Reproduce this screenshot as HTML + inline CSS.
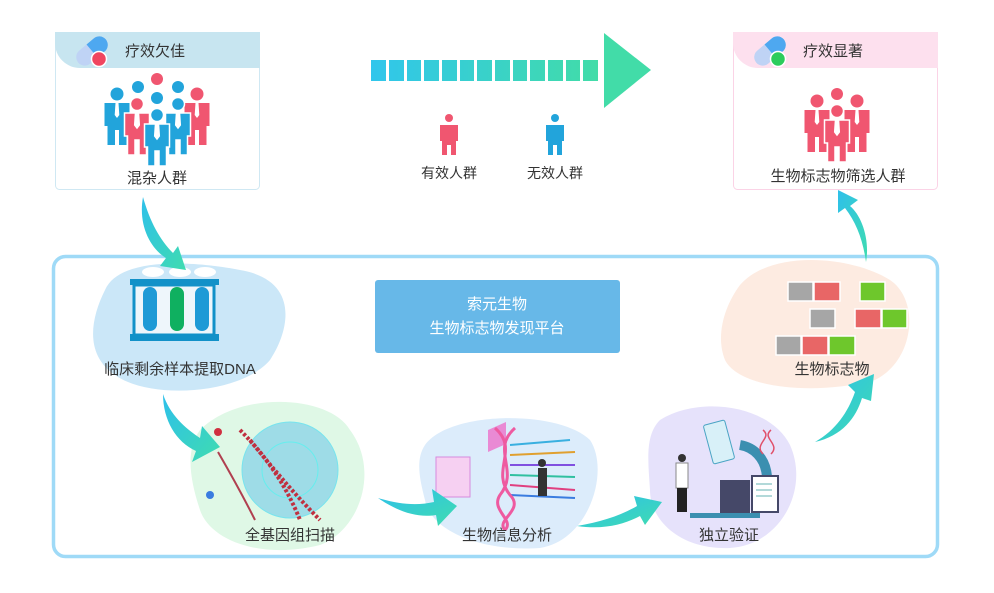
<!DOCTYPE html>
<html><head><meta charset="utf-8"><style>
body{margin:0;background:#fff;width:994px;height:593px;overflow:hidden;font-family:"Liberation Sans","Noto Sans CJK SC",sans-serif}
svg{display:block}
text{font-family:"Liberation Sans","Noto Sans CJK SC",sans-serif;fill:#333}
</style></head><body>
<svg width="994" height="593" viewBox="0 0 994 593">
<defs>
<linearGradient id="ga" x1="0" x2="1"><stop offset="0" stop-color="#30c6ec"/><stop offset="1" stop-color="#42dca8"/></linearGradient>
<linearGradient id="gc" x1="0" y1="0" x2="1" y2="1"><stop offset="0" stop-color="#2ec0ea"/><stop offset="1" stop-color="#3fdcb0"/></linearGradient>
<g id="p"><circle cx="0" cy="-7" r="6.5"/><path d="M-12.5,2 h25 v23 h-3 v19 h-7.5 v-15 h-4 v15 h-7.5 v-19 h-3 z"/><path d="M-1.5,2 h3 l0.8,12 -2.3,3 -2.3,-3 z" fill="#fff"/></g>
</defs>

<!-- left card -->
<rect x="55.5" y="32.5" width="204" height="157" rx="4" fill="#fff" stroke="#cfe8f3"/>
<path d="M55,32 h205 v36 h-180 a25,25 0 0 1 -25,-25 z" fill="#c7e5f0"/>
<g transform="translate(92,51) rotate(-40)"><rect x="-18" y="-8.5" width="36" height="17" rx="8.5" fill="#bfd3f5"/><path d="M0,-8.5 h9.5 a8.5,8.5 0 0 1 0,17 h-9.5 z" fill="#4ea8f0"/></g>
<circle cx="99" cy="59" r="7.5" fill="#f04660" stroke="#fff" stroke-width="1.5"/>
<text x="125" y="56" font-size="15">疗效欠佳</text>
<g fill="#f05670"><circle cx="157" cy="79" r="6"/></g>
<g fill="#22a4db"><circle cx="138" cy="87" r="6"/><circle cx="178" cy="87" r="6"/><circle cx="157" cy="98" r="6"/></g>
<g fill="#22a4db"><use href="#p" x="117" y="101"/></g>
<g fill="#f05670"><use href="#p" x="197" y="101"/></g>
<g fill="#f05670" stroke="#fff" stroke-width="1.5"><use href="#p" x="137" y="111"/></g>
<g fill="#22a4db" stroke="#fff" stroke-width="1.5"><use href="#p" x="178" y="111"/></g>
<g fill="#22a4db" stroke="#fff" stroke-width="1.5"><use href="#p" x="157" y="122"/></g>
<text x="157" y="183" font-size="15" text-anchor="middle">混杂人群</text>

<!-- right card -->
<rect x="733.5" y="32.5" width="204" height="157" rx="4" fill="#fff" stroke="#fbd3e6"/>
<path d="M733,32 h205 v36 h-180 a25,25 0 0 1 -25,-25 z" fill="#fde0ee"/>
<g transform="translate(770,51) rotate(-40)"><rect x="-18" y="-8.5" width="36" height="17" rx="8.5" fill="#bfd3f5"/><path d="M0,-8.5 h9.5 a8.5,8.5 0 0 1 0,17 h-9.5 z" fill="#4ea8f0"/></g>
<circle cx="778" cy="59" r="7.5" fill="#2ccc5c" stroke="#fff" stroke-width="1.5"/>
<text x="803" y="56" font-size="15">疗效显著</text>
<g fill="#f05670"><circle cx="837" cy="94" r="6"/><use href="#p" x="817" y="108"/><use href="#p" x="857" y="108"/></g>
<g fill="#f05670" stroke="#fff" stroke-width="1.5"><use href="#p" x="837" y="118"/></g>
<text x="838" y="181" font-size="15" text-anchor="middle">生物标志物筛选人群</text>

<!-- dashed arrow -->
<rect x="371" y="60" width="227" height="21" fill="url(#ga)"/>
<path d="M604,33 L651,70 L604,108 z" fill="#42dca8"/>
<g fill="#fff">
<rect x="386" y="59" width="3" height="23"/><rect x="404" y="59" width="3" height="23"/><rect x="421" y="59" width="3" height="23"/><rect x="439" y="59" width="3" height="23"/><rect x="457" y="59" width="3" height="23"/><rect x="474" y="59" width="3" height="23"/><rect x="492" y="59" width="3" height="23"/><rect x="510" y="59" width="3" height="23"/><rect x="527" y="59" width="3" height="23"/><rect x="545" y="59" width="3" height="23"/><rect x="563" y="59" width="3" height="23"/><rect x="580" y="59" width="3" height="23"/>
</g>
<g fill="#f05670"><circle cx="449" cy="118" r="4"/><path d="M440,125 h18 v16 h-2 v14 h-5 v-10 h-4 v10 h-5 v-14 h-2 z"/></g>
<g fill="#22a4db"><circle cx="555" cy="118" r="4"/><path d="M546,125 h18 v16 h-2 v14 h-5 v-10 h-4 v10 h-5 v-14 h-2 z"/></g>
<text x="449" y="178" font-size="14" text-anchor="middle">有效人群</text>
<text x="555" y="178" font-size="14" text-anchor="middle">无效人群</text>

<!-- main box -->
<rect x="53.5" y="256.5" width="884" height="300" rx="12" fill="#fff" stroke="#9fdaf7" stroke-width="3.5"/>

<!-- blobs -->
<path d="M105,290 C120,255 200,262 240,270 C300,280 290,330 270,360 C240,395 150,400 115,375 C85,355 90,320 105,290 z" fill="#cbe7f8"/>
<path d="M200,430 C240,390 330,395 350,430 C380,470 360,530 320,545 C260,560 210,540 200,510 C190,480 185,450 200,430 z" fill="#dff8e6"/>
<path d="M425,445 C450,410 560,410 590,440 C610,470 590,540 540,548 C480,552 430,530 425,500 C420,480 415,460 425,445 z" fill="#dcecfb"/>
<path d="M660,420 C700,395 770,405 790,445 C810,490 780,545 730,548 C680,550 650,520 650,490 C648,460 645,435 660,420 z" fill="#e6e2fb"/>
<path d="M740,285 C770,250 850,255 890,280 C920,300 915,360 875,380 C820,395 740,390 725,360 C715,335 725,305 740,285 z" fill="#fdebe1"/>

<!-- tube rack -->
<ellipse cx="153" cy="272" rx="11" ry="5" fill="#fff"/><ellipse cx="180" cy="272" rx="11" ry="5" fill="#fff"/><ellipse cx="205" cy="272" rx="11" ry="5" fill="#fff"/>
<rect x="130" y="279" width="89" height="6" fill="#1291c8"/>
<rect x="134" y="285" width="80" height="50" fill="#eef6fb" stroke="#1291c8" stroke-width="3"/>
<rect x="130" y="334" width="89" height="7" fill="#1291c8"/>
<rect x="143" y="287" width="14" height="44" rx="7" fill="#1e9ad6"/>
<rect x="170" y="287" width="14" height="44" rx="7" fill="#0fb060"/>
<rect x="195" y="287" width="14" height="44" rx="7" fill="#1e9ad6"/>
<text x="180" y="374" font-size="15" text-anchor="middle">临床剩余样本提取DNA</text>

<!-- genome scan -->
<circle cx="290" cy="470" r="48" fill="#8fd6e8" opacity="0.8" stroke="#5ee0f0" stroke-width="1"/>
<circle cx="290" cy="470" r="28" fill="none" stroke="#6ee" stroke-width="1"/>
<path d="M240,430 Q280,470 300,520" stroke="#c03040" stroke-width="4" fill="none" stroke-dasharray="3 2"/>
<path d="M250,440 Q290,490 320,520" stroke="#c03040" stroke-width="4" fill="none" stroke-dasharray="3 2"/>
<path d="M218,452 Q240,490 255,520" stroke="#b04050" stroke-width="2" fill="none"/>
<circle cx="218" cy="432" r="4" fill="#d03040"/><circle cx="210" cy="495" r="4" fill="#3a7ce0"/>
<text x="290" y="540" font-size="15" text-anchor="middle">全基因组扫描</text>

<!-- bioinfo -->
<rect x="436" y="457" width="34" height="40" fill="#f6d0f2" stroke="#d68ade"/>
<path d="M488,430 l18,-8 v22 l-18,8 z" fill="#e98ad4"/>
<g stroke-width="2">
<line x1="510" y1="445" x2="570" y2="440" stroke="#3ab0e0"/><line x1="510" y1="455" x2="575" y2="452" stroke="#e0a030"/><line x1="510" y1="465" x2="575" y2="465" stroke="#8050e0"/><line x1="510" y1="475" x2="575" y2="477" stroke="#30c0a0"/><line x1="510" y1="485" x2="575" y2="490" stroke="#e04080"/><line x1="510" y1="495" x2="575" y2="498" stroke="#3a7ce0"/>
</g>
<path d="M495,428 C520,450 490,470 510,495 C525,510 495,520 505,530 M515,428 C490,450 520,470 500,495 C490,510 515,520 505,530" stroke="#ee5aa0" stroke-width="3" fill="none"/>
<rect x="538" y="468" width="9" height="28" fill="#333"/><circle cx="542" cy="463" r="4" fill="#333"/>
<text x="507" y="540" font-size="15" text-anchor="middle">生物信息分析</text>

<!-- validation -->
<rect x="708" y="422" width="22" height="40" rx="2" fill="#d8f0f8" stroke="#4aa4c4" transform="rotate(-15 719 442)"/>
<path d="M740,445 C770,450 775,490 755,505" stroke="#3b8fb0" stroke-width="10" fill="none"/>
<rect x="720" y="480" width="30" height="35" fill="#454868"/>
<rect x="690" y="513" width="70" height="5" fill="#3b8fb0"/>
<rect x="752" y="476" width="26" height="36" fill="#fff" stroke="#454868" stroke-width="2"/>
<g stroke="#9cc" stroke-width="1.5"><line x1="756" y1="484" x2="772" y2="484"/><line x1="756" y1="490" x2="772" y2="490"/><line x1="756" y1="496" x2="772" y2="496"/></g>
<path d="M763,430 c10,8 -10,14 0,24 M771,430 c-10,8 10,14 0,24" stroke="#e0506a" stroke-width="1.5" fill="none"/>
<circle cx="682" cy="458" r="4" fill="#333"/><rect x="676" y="463" width="12" height="25" fill="#fff" stroke="#888"/><rect x="677" y="488" width="10" height="24" fill="#222"/>
<text x="729" y="540" font-size="15" text-anchor="middle">独立验证</text>

<!-- biomarkers -->
<g stroke="#fff" stroke-width="1.5">
<rect x="788" y="282" width="25" height="19" fill="#a6a6a6"/><rect x="814" y="282" width="26" height="19" fill="#e86666"/><rect x="860" y="282" width="25" height="19" fill="#6ec72c"/>
<rect x="810" y="309" width="25" height="19" fill="#a6a6a6"/><rect x="855" y="309" width="26" height="19" fill="#e86666"/><rect x="882" y="309" width="25" height="19" fill="#6ec72c"/>
<rect x="776" y="336" width="25" height="19" fill="#a6a6a6"/><rect x="802" y="336" width="26" height="19" fill="#e86666"/><rect x="829" y="336" width="26" height="19" fill="#6ec72c"/>
</g>
<text x="832" y="374" font-size="15" text-anchor="middle">生物标志物</text>

<!-- center box -->
<rect x="375" y="280" width="245" height="73" rx="3" fill="#67b8e8"/>
<text x="497" y="309" font-size="15" text-anchor="middle" style="fill:#fff">索元生物</text>
<text x="497" y="333" font-size="15" text-anchor="middle" style="fill:#fff">生物标志物发现平台</text>

<!-- curved arrows -->
<g fill="url(#gc)">
<path d="M143,197 C138,225 150,248 166,258 L160,266 L186,270 L178,246 L173,253 C160,240 150,222 143,197 z"/>
<path d="M163,394 C163,420 176,442 196,451 L192,462 L220,447 L202,426 L200,438 C185,428 170,415 163,394 z"/>
<path d="M378,498 C398,512 418,518 436,515 L438,526 L457,506 L432,489 L434,502 C416,506 398,504 378,498 z"/>
<path d="M577,526 C605,530 625,524 640,516 L645,525 L662,502 L634,496 L637,506 C620,516 600,522 577,526 z"/>
<path d="M815,442 C842,436 856,418 862,398 L871,401 L874,374 L848,385 L855,392 C848,412 836,430 815,442 z"/>
<path d="M866,262 C870,240 862,216 850,206 L858,200 L838,190 L838,213 L845,208 C856,222 863,240 866,262 z"/>
</g>
</svg>
</body></html>
